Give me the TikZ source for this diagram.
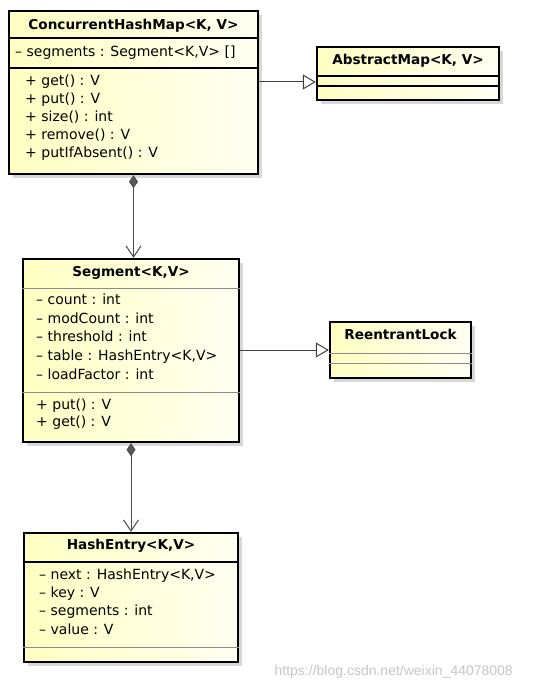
\documentclass[tikz,border=0pt]{standalone}
\usepackage{fontspec}
\setmainfont{DejaVu Sans}
\newfontfamily\wmfont{Liberation Sans}
\usetikzlibrary{arrows.meta,shadows}
\begin{document}
\begin{tikzpicture}[x=1pt,y=-1pt,
  umlbox/.style={draw=black, line width=2.4pt, rectangle, inner sep=0pt,
    left color=yellow!24, right color=yellow!5,
    drop shadow={shadow xshift=4pt, shadow yshift=-4pt, fill=black!25, opacity=0.6}},
  ttl/.style={font=\fontsize{13.6}{15}\selectfont\bfseries, inner sep=0pt, anchor=mid},
  mem/.style={font=\fontsize{14}{16}\selectfont, inner sep=0pt, anchor=mid west},
  sepdark/.style={draw=black, line width=1.3pt},
  seplight/.style={draw=black!45, line width=0.8pt},
  gen/.style={draw=black!75, line width=1pt, -{Triangle[open, length=13pt, width=15pt, fill=white]}},
  comp/.style={draw=black!70, line width=1pt, {Diamond[length=13pt, width=9pt, fill=black!65]}-{Straight Barb[length=11pt, width=15pt]}}
]
\useasboundingbox (0,0) rectangle (536,692);
\fill[white] (0,0) rectangle (536,692);

% ConcurrentHashMap
\node[umlbox, minimum width=249pt, minimum height=163pt] (chm) at (133.5,92.5) {};
\draw[sepdark] (chm.west |- 0,38) -- (chm.east |- 0,38);
\draw[sepdark] (chm.west |- 0,68) -- (chm.east |- 0,68);
\node[ttl] (chmt) at (133.5,27) {ConcurrentHashMap<K, V>};
\node[mem] (chma) at (15,54) {– segments : Segment<K,V> []};
\node[mem] (chm1) at (25,83) {+ get() : V};
\node[mem] (chm2) at (25,101) {+ put() : V};
\node[mem] (chm3) at (25,119) {+ size() : int};
\node[mem] (chm4) at (25,137) {+ remove() : V};
\node[mem] (chm5) at (25,155) {+ putIfAbsent() : V};

% AbstractMap
\node[umlbox, minimum width=182pt, minimum height=53pt] (am) at (408,73.5) {};
\draw[sepdark] (am.west |- 0,76) -- (am.east |- 0,76);
\draw[sepdark] (am.west |- 0,86) -- (am.east |- 0,86);
\node[ttl] (amt) at (408,62) {AbstractMap<K, V>};

% Segment
\node[umlbox, minimum width=216pt, minimum height=183pt] (seg) at (131,350.5) {};
\draw[seplight] (seg.west |- 0,288) -- (seg.east |- 0,288);
\draw[seplight] (seg.west |- 0,392) -- (seg.east |- 0,392);
\node[ttl] (segt) at (131,274) {Segment<K,V>};
\node[mem] (sega1) at (36,302) {– count : int};
\node[mem] (sega2) at (36,321) {– modCount : int};
\node[mem] (sega3) at (36,339) {– threshold : int};
\node[mem] (sega4) at (36,358) {– table : HashEntry<K,V>};
\node[mem] (sega5) at (36,377) {– loadFactor : int};
\node[mem] (segm1) at (36,407) {+ put() : V};
\node[mem] (segm2) at (36,424) {+ get() : V};

% ReentrantLock
\node[umlbox, minimum width=141pt, minimum height=56pt] (rl) at (400.5,350) {};
\draw[seplight] (rl.west |- 0,353) -- (rl.east |- 0,353);
\draw[seplight] (rl.west |- 0,363) -- (rl.east |- 0,363);
\node[ttl] (rlt) at (400.5,337) {ReentrantLock};

% HashEntry
\node[umlbox, minimum width=214pt, minimum height=129pt] (he) at (131,597.5) {};
\draw[sepdark] (he.west |- 0,562) -- (he.east |- 0,562);
\draw[seplight] (he.west |- 0,647) -- (he.east |- 0,647);
\node[ttl] (het) at (131,547) {HashEntry<K,V>};
\node[mem] (hea1) at (39,577) {– next : HashEntry<K,V>};
\node[mem] (hea2) at (39,595) {– key : V};
\node[mem] (hea3) at (39,613) {– segments : int};
\node[mem] (hea4) at (39,632) {– value : V};

% connectors
\draw[gen] (chm.east |- 0,82) -- (am.west |- 0,82);
\draw[gen] (seg.east |- 0,350) -- (rl.west |- 0,350);
\draw[comp] (chm.south) -- (chm.south |- seg.north);
\draw[comp] (seg.south) -- (seg.south |- he.north);

% watermark
\node[font=\wmfont\fontsize{14}{16}\selectfont, text=black!22, inner sep=0pt, anchor=mid east] (wm) at (513,673) {https://blog.csdn.net/weixin\_44078008};
\end{tikzpicture}
\end{document}
